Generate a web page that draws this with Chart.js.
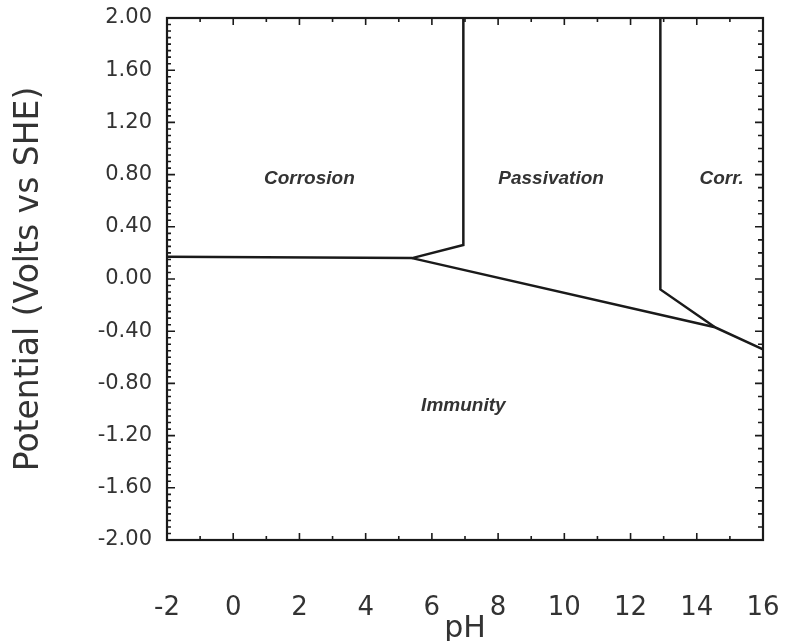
<!DOCTYPE html>
<html>
<head>
<meta charset="utf-8">
<script src="https://cdn.jsdelivr.net/npm/chart.js@4"></script>
<style>
  html, body { margin: 0; padding: 0; background: #fff; }
  #wrap { width: 787px; height: 641px; }
</style>
</head>
<body>
<div id="wrap"><canvas id="pourbaix"></canvas></div>
<script>
// ---------- Data ---------- //
const xTicks = [-2, 0, 2, 4, 6, 8, 10, 12, 14, 16];
const yTicks = [-2.0, -1.6, -1.2, -0.8, -0.4, 0.0, 0.4, 0.8, 1.2, 1.6, 2.0];

// boundary lines, pH and potential (V vs SHE)
const acidLinePH = [-2, 5.4];
const acidLineV = [0.17, 0.16];
const passLeftPH = [5.4, 6.95, 6.95];
const passLeftV = [0.16, 0.26, 2.0];
const hydrogenPH = [5.4, 14.55, 16];
const hydrogenV = [0.16, -0.37, -0.54];
const passRightPH = [12.9, 12.9, 14.55];
const passRightV = [2.0, -0.08, -0.37];

// region names
const regionNames = ["Corrosion", "Passivation", "Corr.", "Immunity"];
const regionPH = [2.3, 9.6, 14.75, 6.95];
const regionV = [0.77, 0.77, 0.77, -0.97];

const inkColor = '#1a1a1a';
const textColor = '#333';

function toPoints(xs, ys) {
  return xs.map((x, i) => ({ x: x, y: ys[i] }));
}

function lineSet(xs, ys) {
  return {
    data: toPoints(xs, ys),
    showLine: true,
    borderColor: inkColor,
    borderWidth: 2.5,
    pointRadius: 0,
    tension: 0
  };
}

// labels hanging past the plot edges should not shrink the plot
function noOverhang(scale) {
  scale.paddingLeft = 0;
  scale.paddingRight = 0;
  scale.paddingTop = 0;
  scale.paddingBottom = 0;
}

// ---------- Frame, inward ticks and region labels ---------- //
const framePlugin = {
  id: 'frame',
  afterDraw(chart) {
    const ctx = chart.ctx;
    const area = chart.chartArea;
    const xs = chart.scales.x;
    const ys = chart.scales.y;

    ctx.save();
    ctx.strokeStyle = inkColor;
    ctx.lineWidth = 2.2;
    ctx.strokeRect(area.left, area.top, area.right - area.left, area.bottom - area.top);

    ctx.lineWidth = 1.6;
    ctx.beginPath();
    // left side: every 0.05 V, longer at labelled values
    for (let i = 0; i <= 80; i++) {
      const py = ys.getPixelForValue(-2 + i * 0.05);
      const len = (i % 8 === 0) ? 8 : 4;
      ctx.moveTo(area.left, py);
      ctx.lineTo(area.left + len, py);
    }
    // right side: every 0.1 V
    for (let i = 0; i <= 40; i++) {
      const py = ys.getPixelForValue(-2 + i * 0.1);
      const len = (i % 4 === 0) ? 8 : 5;
      ctx.moveTo(area.right, py);
      ctx.lineTo(area.right - len, py);
    }
    // top and bottom: every pH unit
    for (let v = -2; v <= 16; v++) {
      const px = xs.getPixelForValue(v);
      const len = (v % 2 === 0) ? 7 : 4;
      ctx.moveTo(px, area.bottom);
      ctx.lineTo(px, area.bottom - len);
      ctx.moveTo(px, area.top);
      ctx.lineTo(px, area.top + len);
    }
    ctx.stroke();

    ctx.fillStyle = textColor;
    ctx.font = 'italic bold 19px "Liberation Sans", Arial, sans-serif';
    ctx.textAlign = 'center';
    ctx.textBaseline = 'middle';
    regionNames.forEach((name, i) => {
      ctx.fillText(name, xs.getPixelForValue(regionPH[i]), ys.getPixelForValue(regionV[i]));
    });
    ctx.restore();
  }
};

// ---------- Chart ---------- //
const ctx = document.getElementById('pourbaix').getContext('2d');
new Chart(ctx, {
  type: 'scatter',
  data: {
    datasets: [
      lineSet(acidLinePH, acidLineV),
      lineSet(passLeftPH, passLeftV),
      lineSet(hydrogenPH, hydrogenV),
      lineSet(passRightPH, passRightV)
    ]
  },
  options: {
    responsive: true,
    maintainAspectRatio: false,
    animation: false,
    layout: { padding: { top: 18, right: 24, bottom: 0, left: 0 } },
    plugins: {
      legend: { display: false },
      tooltip: { enabled: false }
    },
    scales: {
      x: {
        type: 'linear',
        min: -2,
        max: 16,
        afterBuildTicks: (scale) => { scale.ticks = xTicks.map(v => ({ value: v })); },
        afterFit: (scale) => { scale.height = 101; noOverhang(scale); },
        grid: { display: false, drawTicks: false },
        border: { display: false },
        ticks: {
          color: textColor,
          padding: 53,
          maxRotation: 0,
          font: { family: '"DejaVu Sans", sans-serif', size: 26 }
        },
        title: {
          display: true,
          text: 'pH',
          color: textColor,
          padding: { top: 0, bottom: 0 },
          font: { family: '"DejaVu Sans", sans-serif', size: 30, lineHeight: 0.8 }
        }
      },
      y: {
        type: 'linear',
        min: -2,
        max: 2,
        afterBuildTicks: (scale) => { scale.ticks = yTicks.map(v => ({ value: v })); },
        afterFit: (scale) => { scale.width = 167; noOverhang(scale); },
        grid: { display: false, drawTicks: false },
        border: { display: false },
        ticks: {
          color: textColor,
          padding: 15,
          callback: (v) => Number(v).toFixed(2),
          font: { family: '"DejaVu Sans", sans-serif', size: 21 }
        },
        title: {
          display: true,
          text: 'Potential (Volts vs SHE)',
          color: textColor,
          padding: { top: 10, bottom: 0 },
          font: { family: '"DejaVu Sans", sans-serif', size: 33 }
        }
      }
    }
  },
  plugins: [framePlugin]
});
</script>
</body>
</html>
